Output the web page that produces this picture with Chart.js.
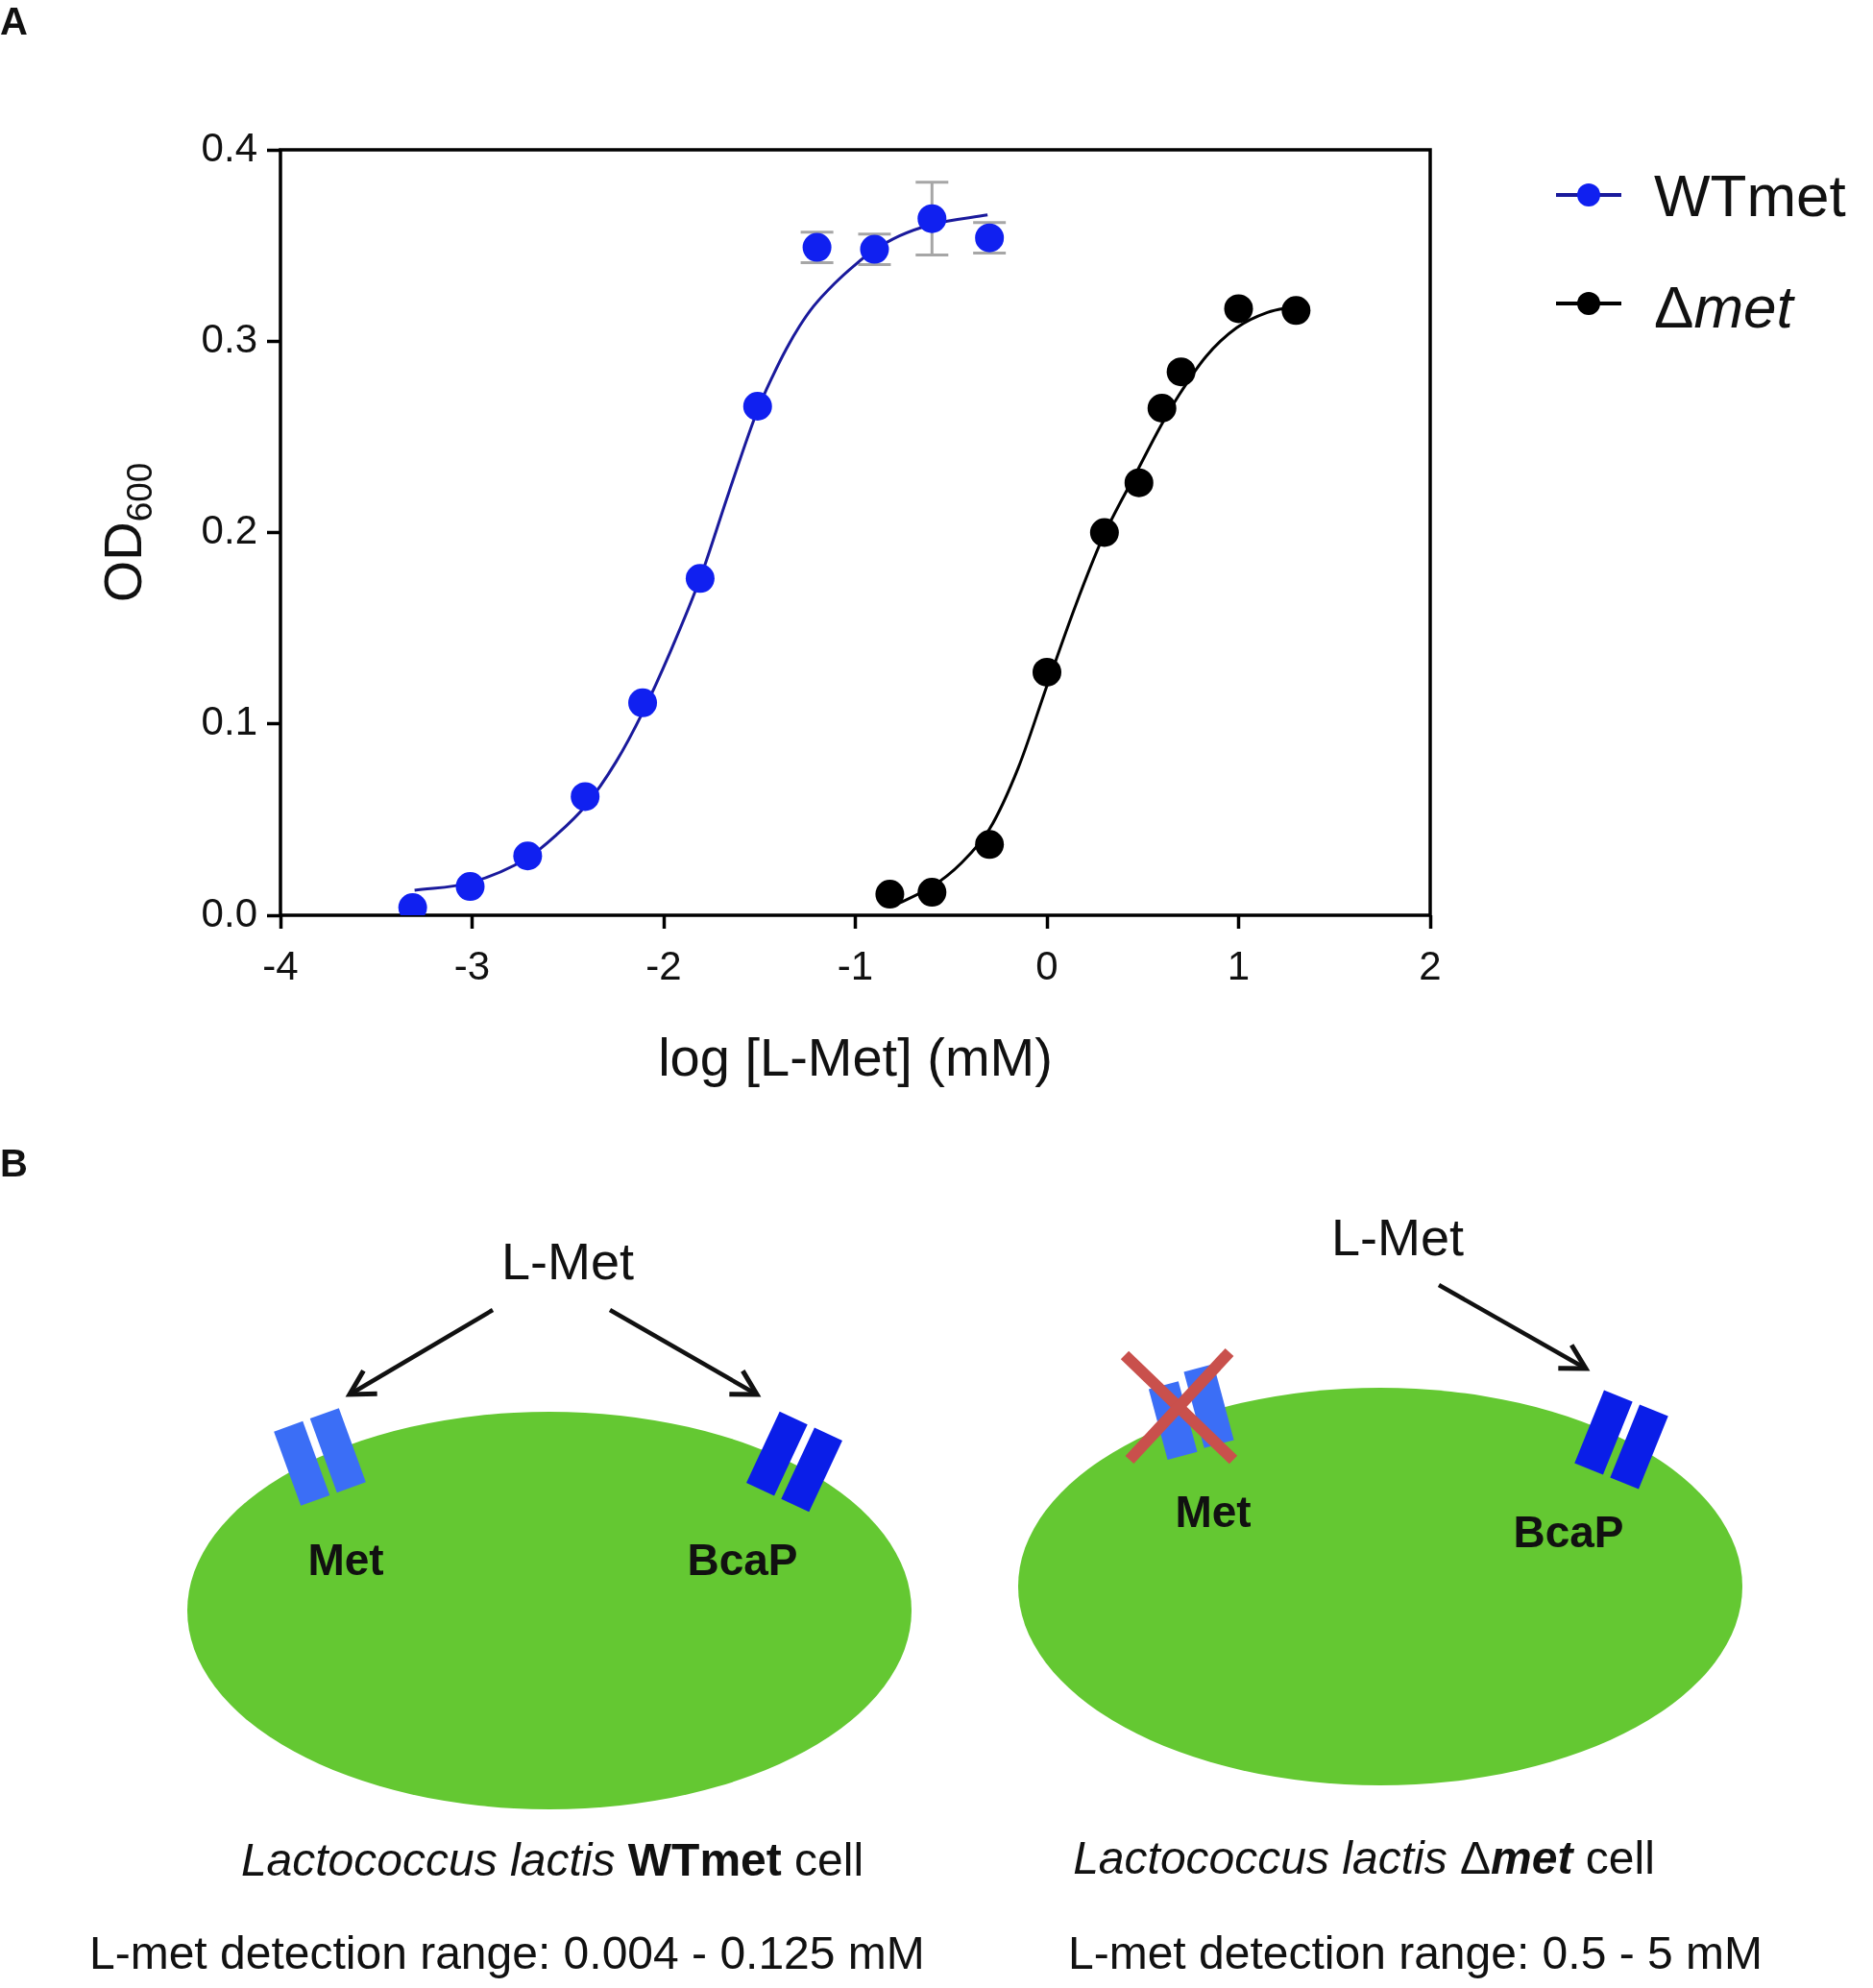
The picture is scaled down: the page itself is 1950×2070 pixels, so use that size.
<!DOCTYPE html>
<html lang="en">
<head>
<meta charset="UTF-8">
<title>L-Met growth response</title>
<script src="https://cdn.jsdelivr.net/npm/chart.js@4.4.1/dist/chart.umd.min.js"></script>
<style>
  body { margin: 0; background: #fff; }
  #page { position: relative; width: 1950px; height: 2070px; font-family: "Liberation Sans", Arial, sans-serif; }
  #chartBox { position: absolute; left: 0; top: 0; width: 1950px; height: 1180px; }
  #panelB { position: absolute; left: 0; top: 0; pointer-events: none; }
</style>
</head>
<body>
<div id="page">
  <div id="chartBox"><canvas id="odChart"></canvas></div>

  <svg id="panelB" width="1950" height="2070" viewBox="0 0 1950 2070" font-family="Liberation Sans, Arial, sans-serif" fill="#111">
    <defs>
      <marker id="head" markerUnits="userSpaceOnUse" markerWidth="40" markerHeight="40" refX="30" refY="20" orient="auto">
        <path d="M5,6 L30,20 L5,34" fill="none" stroke="#111" stroke-width="5"/>
      </marker>
    </defs>

    <text x="0" y="36" font-size="40" font-weight="bold">A</text>
    <text x="0" y="1225" font-size="40" font-weight="bold">B</text>

    <!-- WTmet cell -->
    <text x="591" y="1332" font-size="54" text-anchor="middle">L-Met</text>
    <line x1="513" y1="1364" x2="364" y2="1452" stroke="#111" stroke-width="4.5" marker-end="url(#head)"/>
    <line x1="635" y1="1364" x2="788" y2="1452" stroke="#111" stroke-width="4.5" marker-end="url(#head)"/>
    <ellipse cx="572" cy="1677" rx="377" ry="207" fill="#64c832"/>
    <g transform="translate(333,1517) rotate(-20)" fill="#3b6ef6">
      <rect x="-36" y="-41" width="32" height="82"/>
      <rect x="4" y="-41" width="32" height="82"/>
    </g>
    <g transform="translate(827,1522) rotate(25)" fill="#0a1ee8">
      <rect x="-36" y="-41" width="32" height="82"/>
      <rect x="4" y="-41" width="32" height="82"/>
    </g>
    <text x="360" y="1640" font-size="46" font-weight="bold" text-anchor="middle">Met</text>
    <text x="773" y="1640" font-size="46" font-weight="bold" text-anchor="middle">BcaP</text>
    <text x="575" y="1953" font-size="48" text-anchor="middle"><tspan font-style="italic">Lactococcus lactis</tspan> <tspan font-weight="bold">WTmet</tspan> cell</text>
    <text x="93" y="2050" font-size="48">L-met detection range: 0.004 - 0.125 mM</text>

    <!-- delta met cell -->
    <text x="1455" y="1307" font-size="54" text-anchor="middle">L-Met</text>
    <line x1="1498" y1="1338" x2="1651" y2="1425" stroke="#111" stroke-width="4.5" marker-end="url(#head)"/>
    <ellipse cx="1437" cy="1652" rx="377" ry="207" fill="#64c832"/>
    <g transform="translate(1240,1472) rotate(-15)" fill="#3b6ef6">
      <rect x="-36" y="-36" width="32" height="76"/>
      <rect x="4" y="-44" width="32" height="82"/>
    </g>
    <line x1="1171" y1="1411" x2="1284" y2="1520" stroke="#c9504c" stroke-width="12"/>
    <line x1="1280" y1="1408" x2="1176" y2="1520" stroke="#c9504c" stroke-width="12"/>
    <g transform="translate(1688,1499) rotate(22)" fill="#0a1ee8">
      <rect x="-36" y="-41" width="32" height="82"/>
      <rect x="4" y="-41" width="32" height="82"/>
    </g>
    <text x="1263" y="1590" font-size="46" font-weight="bold" text-anchor="middle">Met</text>
    <text x="1633" y="1611" font-size="46" font-weight="bold" text-anchor="middle">BcaP</text>
    <text x="1420" y="1951" font-size="48" text-anchor="middle"><tspan font-style="italic">Lactococcus lactis</tspan> Δ<tspan font-weight="bold" font-style="italic">met</tspan> cell</text>
    <text x="1112" y="2050" font-size="48">L-met detection range: 0.5 - 5 mM</text>
  </svg>
</div>

<script>
// axis ticks
const xTicks = [-4, -3, -2, -1, 0, 1, 2];
const xTickLabels = ['-4', '-3', '-2', '-1', '0', '1', '2'];
const yTicks = [0, 0.1, 0.2, 0.3, 0.4];
const yTickLabels = ['0.0', '0.1', '0.2', '0.3', '0.4'];

const legendNames = ['WTmet', 'Δmet'];

// WTmet measurements, log [L-Met] (mM) vs OD600
const wtX = [-3.31, -3.01, -2.71, -2.41, -2.11, -1.81, -1.51, -1.20, -0.90, -0.60, -0.30];
const wtY = [0.004, 0.015, 0.031, 0.062, 0.111, 0.176, 0.266, 0.349, 0.348, 0.364, 0.354];
const wtErr = [0, 0, 0, 0, 0, 0, 0, 0.008, 0.008, 0.019, 0.008];

// WTmet fitted curve
const wtFitX = [-3.30, -3.01, -2.71, -2.56, -2.41, -2.25, -2.11, -1.96, -1.81, -1.66, -1.51, -1.43, -1.36, -1.29, -1.22, -1.11, -1.00, -0.91, -0.77, -0.60, -0.31];
const wtFitY = [0.013, 0.017, 0.030, 0.042, 0.057, 0.080, 0.106, 0.139, 0.176, 0.221, 0.264, 0.282, 0.296, 0.308, 0.318, 0.330, 0.340, 0.347, 0.355, 0.361, 0.366];

// delta met measurements
const dmX = [-0.82, -0.60, -0.30, 0.00, 0.30, 0.48, 0.60, 0.70, 1.00, 1.30];
const dmY = [0.011, 0.012, 0.037, 0.127, 0.200, 0.226, 0.265, 0.284, 0.317, 0.316];

// delta met fitted curve
const dmFitX = [-0.80, -0.60, -0.45, -0.30, -0.15, 0.00, 0.15, 0.29, 0.47, 0.59, 0.69, 0.83, 0.99, 1.15, 1.29];
const dmFitY = [0.005, 0.015, 0.027, 0.045, 0.077, 0.120, 0.162, 0.197, 0.232, 0.255, 0.272, 0.292, 0.307, 0.315, 0.318];

const wtColor = '#1020f0';
const wtLine = '#1a1a9c';
const dmColor = '#000000';
const FONT = '"Liberation Sans", Arial, sans-serif';

function pts(xs, ys) {
  return xs.map((x, i) => ({ x: x, y: ys[i] }));
}

const framePlugin = {
  id: 'frame',
  beforeDatasetsDraw(chart) {
    const a = chart.chartArea;
    const c = chart.ctx;
    c.save();
    c.strokeStyle = '#000';
    c.lineWidth = 3.5;
    c.strokeRect(a.left, a.top, a.right - a.left, a.bottom - a.top);
    c.restore();
  }
};

const errorBarPlugin = {
  id: 'errorBars',
  beforeDatasetsDraw(chart) {
    const xs = chart.scales.x, ys = chart.scales.y, c = chart.ctx;
    c.save();
    c.strokeStyle = '#a6a6a6';
    c.lineWidth = 3;
    wtErr.forEach((e, i) => {
      if (!e) return;
      const px = xs.getPixelForValue(wtX[i]);
      const top = ys.getPixelForValue(wtY[i] + e);
      const bot = ys.getPixelForValue(wtY[i] - e);
      c.beginPath();
      c.moveTo(px, top); c.lineTo(px, bot);
      c.moveTo(px - 17, top); c.lineTo(px + 17, top);
      c.moveTo(px - 17, bot); c.lineTo(px + 17, bot);
      c.stroke();
    });
    c.restore();
  }
};

const axisTitlePlugin = {
  id: 'axisTitles',
  afterDraw(chart) {
    const a = chart.chartArea, c = chart.ctx;
    c.save();
    c.fillStyle = '#111';
    c.textAlign = 'center';
    c.textBaseline = 'alphabetic';
    c.font = '56px ' + FONT;
    c.fillText('log [L-Met] (mM)', (a.left + a.right) / 2, 1120);

    // OD with subscript 600, rotated
    c.translate(147, (a.top + a.bottom) / 2);
    c.rotate(-Math.PI / 2);
    c.textAlign = 'left';
    c.font = '56px ' + FONT;
    const wMain = c.measureText('OD').width;
    c.font = '37px ' + FONT;
    const wSub = c.measureText('600').width;
    const x0 = -(wMain + wSub) / 2;
    c.font = '56px ' + FONT;
    c.fillText('OD', x0, 0);
    c.font = '37px ' + FONT;
    c.fillText('600', x0 + wMain, 11);
    c.restore();
  }
};

const legendPlugin = {
  id: 'sideLegend',
  afterDraw(chart) {
    const c = chart.ctx;
    const rows = [
      { ds: chart.data.datasets[0], line: chart.data.datasets[1].borderColor, y: 203 },
      { ds: chart.data.datasets[2], line: chart.data.datasets[3].borderColor, y: 316 }
    ];
    c.save();
    rows.forEach((r, i) => {
      c.strokeStyle = r.line;
      c.lineWidth = 4;
      c.beginPath();
      c.moveTo(1620, r.y); c.lineTo(1688, r.y);
      c.stroke();
      c.fillStyle = r.ds.backgroundColor;
      c.beginPath();
      c.arc(1654, r.y, 12, 0, Math.PI * 2);
      c.fill();

      c.fillStyle = '#111';
      c.textAlign = 'left';
      c.textBaseline = 'alphabetic';
      const name = legendNames[i];
      if (name.startsWith('Δ')) {
        c.font = '62px ' + FONT;
        c.fillText('Δ', 1722, r.y + 25);
        const w = c.measureText('Δ').width;
        c.font = 'italic 62px ' + FONT;
        c.fillText(name.slice(1), 1722 + w, r.y + 25);
      } else {
        c.font = '62px ' + FONT;
        c.fillText(name, 1722, r.y + 22);
      }
    });
    c.restore();
  }
};

const tickFont = { family: FONT, size: 42 };
const gridOpts = {
  display: true,
  drawOnChartArea: false,
  drawTicks: true,
  tickLength: 14,
  tickWidth: 3.5,
  tickColor: '#000',
  color: '#000'
};

const chart = new Chart(document.getElementById('odChart'), {
  type: 'scatter',
  data: {
    datasets: [
      {
        label: legendNames[0],
        data: pts(wtX, wtY),
        pointRadius: 15,
        pointHoverRadius: 15,
        backgroundColor: wtColor,
        borderWidth: 0,
        showLine: false,
        order: 0
      },
      {
        label: legendNames[0] + ' fit',
        data: pts(wtFitX, wtFitY),
        showLine: true,
        pointRadius: 0,
        borderColor: wtLine,
        borderWidth: 3,
        cubicInterpolationMode: 'monotone',
        order: 1
      },
      {
        label: legendNames[1],
        data: pts(dmX, dmY),
        pointRadius: 15,
        pointHoverRadius: 15,
        backgroundColor: dmColor,
        borderWidth: 0,
        showLine: false,
        order: 0
      },
      {
        label: legendNames[1] + ' fit',
        data: pts(dmFitX, dmFitY),
        showLine: true,
        pointRadius: 0,
        borderColor: dmColor,
        borderWidth: 3,
        cubicInterpolationMode: 'monotone',
        order: 1
      }
    ]
  },
  options: {
    responsive: true,
    maintainAspectRatio: false,
    animation: false,
    layout: { padding: { left: 0, top: 156, right: 461, bottom: 127 } },
    plugins: {
      legend: { display: false },
      tooltip: { enabled: false }
    },
    scales: {
      x: {
        type: 'linear',
        min: -4,
        max: 2,
        afterBuildTicks: s => { s.ticks = xTicks.map(v => ({ value: v })); },
        afterFit: s => { s.height = 100; },
        ticks: {
          font: tickFont,
          color: '#111',
          padding: 16,
          maxRotation: 0,
          callback: v => xTickLabels[xTicks.indexOf(v)]
        },
        grid: gridOpts,
        border: { display: false }
      },
      y: {
        type: 'linear',
        min: 0,
        max: 0.4,
        afterBuildTicks: s => { s.ticks = yTicks.map(v => ({ value: v })); },
        afterFit: s => { s.width = 292; },
        ticks: {
          font: tickFont,
          color: '#111',
          padding: 10,
          callback: v => yTickLabels[yTicks.indexOf(v)]
        },
        grid: gridOpts,
        border: { display: false }
      }
    }
  },
  plugins: [framePlugin, errorBarPlugin, axisTitlePlugin, legendPlugin]
});
</script>
</body>
</html>
